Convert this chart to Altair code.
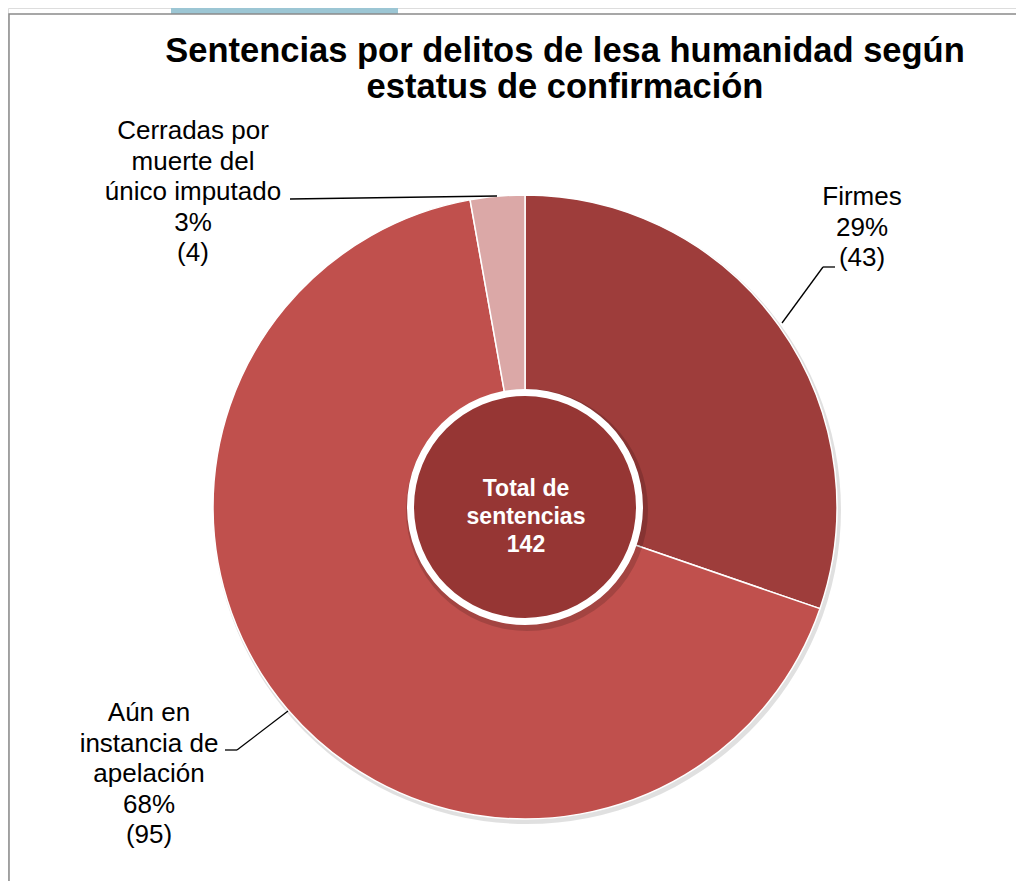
import altair as alt
import pandas as pd

# ---- data ----
categories = ["Firmes", "Aún en instancia de apelación", "Cerradas por muerte del único imputado"]
label_lines = [["Firmes"], ["Aún en", "instancia de", "apelación"], ["Cerradas por", "muerte del", "único imputado"]]
values = [43, 95, 4]
percent_labels = ["29%", "68%", "3%"]
colors = ["#9E3D3B", "#C0504D", "#DBA8A7"]
title_lines = ["Sentencias por delitos de lesa humanidad según", "estatus de confirmación"]
center_lines = ["Total de", "sentencias"]

total = sum(values)
df = pd.DataFrame({
    "cat": categories,
    "value": values,
    "order": list(range(len(categories))),
    "label": ["\n".join(l + [p, f"({v})"]) for l, p, v in zip(label_lines, percent_labels, values)],
})

FONT = "Liberation Sans"
W, H = 1008, 873
CX, CY, R, RC = 517, 499, 312, 115
TWO_PI = 6.283185

base = alt.Chart(df)
one = pd.DataFrame({"a": [0]})

# decorative band & frame
band = alt.Chart(one).mark_rect(color="#9CC6D4").encode(
    x=alt.value(163), x2=alt.value(390), y=alt.value(0), y2=alt.value(6))
frame = alt.Chart(one).mark_rect(
    fill="white", stroke="#8A8A8A", strokeWidth=1.5).encode(
    x=alt.value(1), x2=alt.value(1030), y=alt.value(6), y2=alt.value(900))

shadow = alt.Chart(one).mark_arc(
    outerRadius=R + 2, color="#000000", opacity=0.12, theta=0, theta2=TWO_PI).encode(
    x=alt.value(CX + 2), y=alt.value(CY + 3))

pie = base.mark_arc(outerRadius=R, stroke="white", strokeWidth=1.5).encode(
    theta=alt.Theta("value:Q", stack=True),
    order=alt.Order("order:Q"),
    color=alt.Color("cat:N", scale=alt.Scale(domain=categories, range=colors), legend=None),
    x=alt.value(CX), y=alt.value(CY),
)

center_df = pd.DataFrame({"t": ["\n".join(center_lines + [str(total)])]})
center_shadow = alt.Chart(one).mark_arc(
    outerRadius=RC + 6, color="#000000", opacity=0.15, theta=0, theta2=TWO_PI).encode(
    x=alt.value(CX + 2), y=alt.value(CY + 3))
center_ring = alt.Chart(one).mark_arc(
    outerRadius=RC + 3, fill="white", theta=0, theta2=TWO_PI).encode(
    x=alt.value(CX), y=alt.value(CY))
center = alt.Chart(one).mark_arc(
    outerRadius=RC - 4, fill="#963634", theta=0, theta2=TWO_PI).encode(
    x=alt.value(CX), y=alt.value(CY))
center_text = alt.Chart(center_df).mark_text(
    font=FONT, fontSize=23, fontWeight="bold", color="white", lineBreak="\n", lineHeight=28,
    align="center", baseline="middle").encode(
    text="t:N", x=alt.value(CX + 1), y=alt.value(481))

title = alt.Chart(pd.DataFrame({"t": ["\n".join(title_lines)]})).mark_text(
    font=FONT, fontSize=34.5, fontWeight="bold", color="black", lineBreak="\n", lineHeight=36,
    align="center", baseline="middle").encode(text="t:N", x=alt.value(557), y=alt.value(44))

label_pos = {categories[0]: (854, 189), categories[1]: (141, 705), categories[2]: (185, 123)}
labels = []
for c, (lx, ly) in label_pos.items():
    labels.append(base.transform_filter(alt.datum.cat == c).mark_text(
        font=FONT, fontSize=26, color="black", lineBreak="\n", lineHeight=30.5,
        align="center", baseline="middle").encode(text="label:N", x=alt.value(lx), y=alt.value(ly)))

segments = [
    (282, 191, 489, 188),
    (827, 259, 815, 259), (815, 259, 774, 315),
    (217, 742, 229, 742), (229, 742, 280, 703),
]
leaders = []
for x1, y1, x2, y2 in segments:
    leaders.append(alt.Chart(one).mark_rule(color="black", strokeWidth=1.3).encode(
        x=alt.value(x1), y=alt.value(y1), x2=alt.value(x2), y2=alt.value(y2)))

chart = alt.layer(band, frame, shadow, pie, center_shadow, center_ring, center, center_text, title,
                  *labels, *leaders).properties(
    width=W, height=H, autosize=alt.AutoSizeParams(type="none"), padding=0
).configure_view(stroke=None).configure(background="white")

chart.save("out.html", embed_options={"renderer": "svg", "actions": False})
